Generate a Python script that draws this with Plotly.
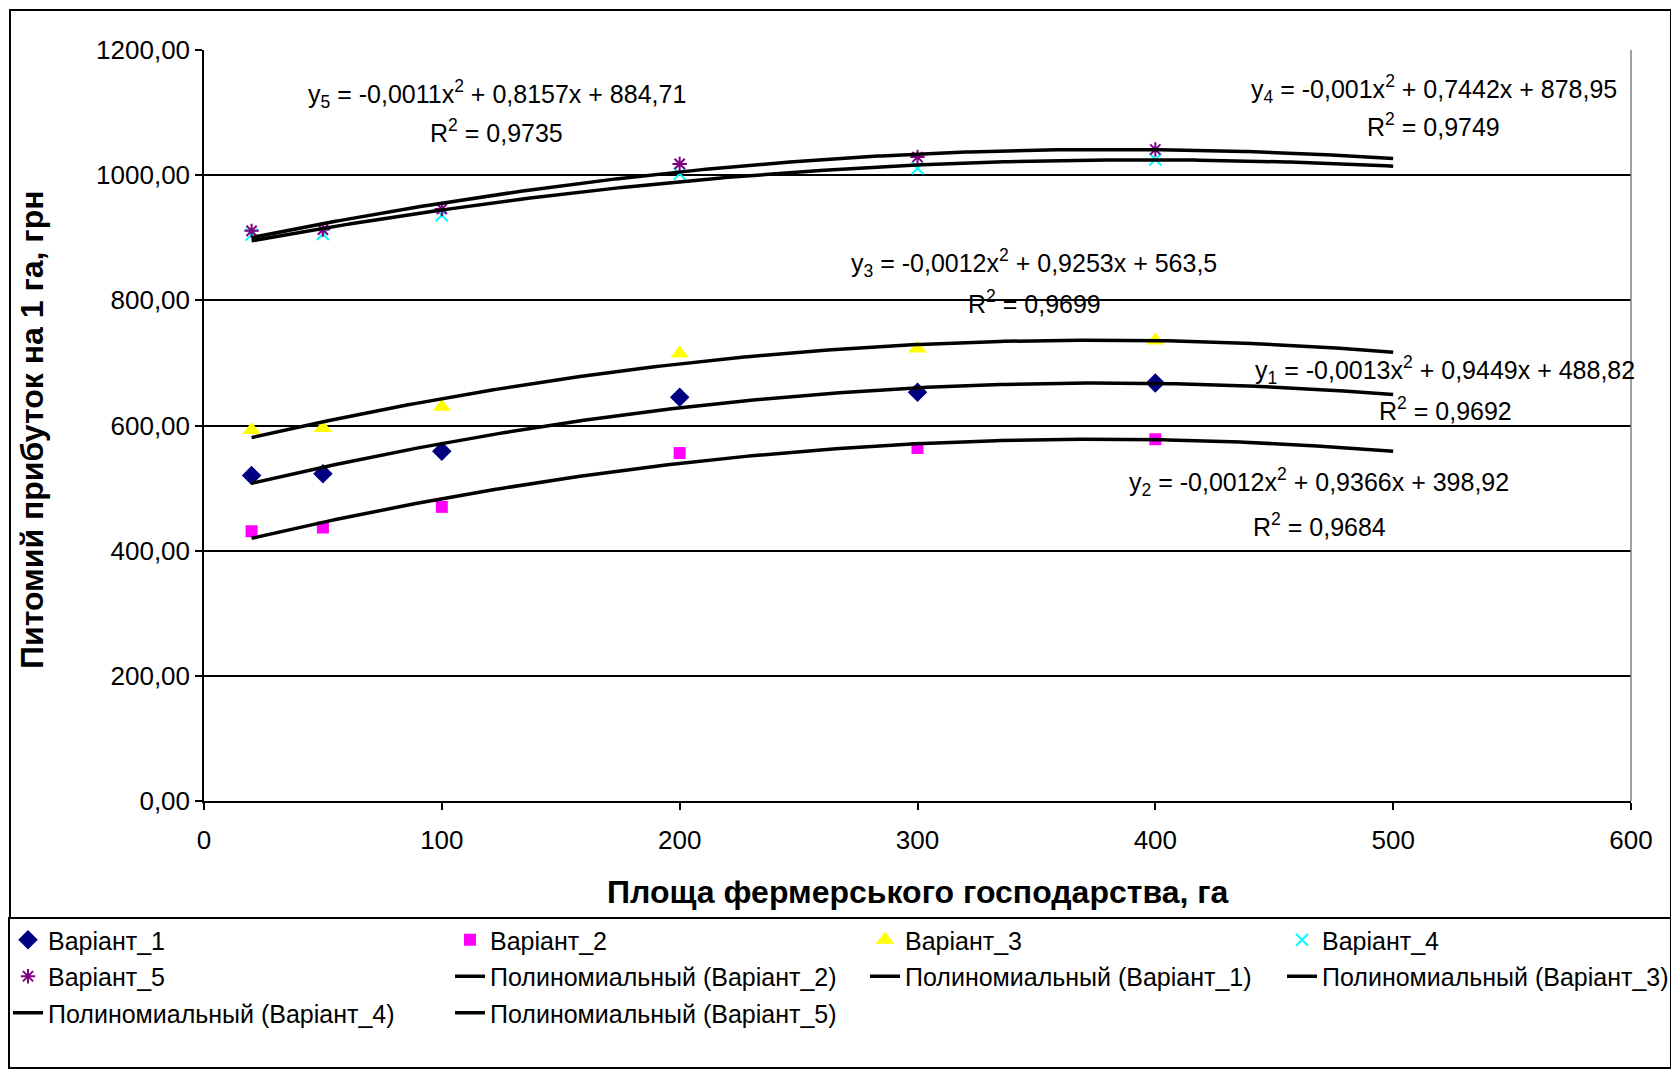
import numpy as np
import plotly.graph_objects as go

# ---------------- data ----------------
area = [20, 50, 100, 200, 300, 400]          # Площа фермерського господарства, га
v1 = [520, 523, 559, 645, 653, 668]          # Варіант_1
v2 = [431, 437, 470, 556, 564, 578]          # Варіант_2
v3 = [593, 596, 630, 715, 723, 736]          # Варіант_3
v4 = [905, 906, 936, 1002, 1011, 1025]       # Варіант_4
v5 = [911, 913, 946, 1018, 1029, 1041]       # Варіант_5
trend_start = 20
trend_end = 500

names = ["Варіант_1", "Варіант_2", "Варіант_3", "Варіант_4", "Варіант_5"]
values = [v1, v2, v3, v4, v5]

x_ticks = [0, 100, 200, 300, 400, 500, 600]
y_ticks = [0, 200, 400, 600, 800, 1000, 1200]

x_title = "Площа фермерського господарства, га"
y_title = "Питомий прибуток на 1 га, грн"

equations = [
    ("y<sub>1</sub> = -0,0013x<sup>2</sup> + 0,9449x + 488,82", "R<sup>2</sup> = 0,9692"),
    ("y<sub>2</sub> = -0,0012x<sup>2</sup> + 0,9366x + 398,92", "R<sup>2</sup> = 0,9684"),
    ("y<sub>3</sub> = -0,0012x<sup>2</sup> + 0,9253x + 563,5", "R<sup>2</sup> = 0,9699"),
    ("y<sub>4</sub> = -0,001x<sup>2</sup> + 0,7442x + 878,95", "R<sup>2</sup> = 0,9749"),
    ("y<sub>5</sub> = -0,0011x<sup>2</sup> + 0,8157x + 884,71", "R<sup>2</sup> = 0,9735"),
]

# ---------------- styles ----------------
FONT = "Liberation Sans, Arial, sans-serif"
marker_styles = [
    dict(symbol="diamond", size=15, color="#000080"),
    dict(symbol="square", size=12, color="#FF00FF"),
    dict(symbol="triangle-up", size=16, color="#FFFF00"),
    dict(symbol="x-thin-open", size=12, color="#00FFFF", line=dict(color="#00FFFF", width=2)),
    dict(symbol="asterisk-open", size=12, color="#800080", line=dict(color="#800080", width=2)),
]
# legend column assignment (4 columns, like the reference)
marker_legend = ["legend", "legend2", "legend3", "legend4", "legend"]
trend_order = [1, 0, 2, 3, 4]                # order of trendlines in the legend
trend_legend = ["legend2", "legend3", "legend4", "legend", "legend2"]
marker_rank = [1, 1, 1, 1, 2]
trend_rank = [2, 2, 2, 3, 3]

# equation label positions (data coords) : (x, y line1, y line2)
eq_pos = [
    (522, 689, 626),
    (469, 510, 441),
    (349, 860, 797),
    (517, 1138, 1080),
    (123, 1130, 1071),
]

fig = go.Figure()

for i, (nm, vals) in enumerate(zip(names, values)):
    fig.add_trace(go.Scatter(
        x=area, y=vals, mode="markers", name=nm,
        marker=marker_styles[i], legend=marker_legend[i],
        legendgroup=f"m{i}", legendrank=marker_rank[i],
    ))

xs = np.linspace(trend_start, trend_end, 300)
for k, i in enumerate(trend_order):
    coef = np.polyfit(area, values[i], 2)
    fig.add_trace(go.Scatter(
        x=xs, y=np.polyval(coef, xs), mode="lines",
        name=f"Полиномиальный ({names[i]})",
        line=dict(color="black", width=3.5),
        legend=trend_legend[k], legendgroup=f"t{i}", legendrank=trend_rank[k],
    ))

for (l1, l2), (ex, ey1, ey2) in zip(equations, eq_pos):
    for txt, yy in ((l1, ey1), (l2, ey2)):
        fig.add_annotation(x=ex, y=yy, xref="x", yref="y", text=txt, showarrow=False,
                           font=dict(family=FONT, size=25, color="black"),
                           xanchor="center", yanchor="middle")

# page offset (browser body margin) compensation: figure is 16px smaller
OFF = 8
W, H = 1679 - 2 * OFF, 1077 - 2 * OFF
PL, PR, PT, PB = 204, 1631, 50, 801           # plot area in reference pixels
L, R, T, B = PL - OFF, W - (PR - OFF), PT - OFF, H - (PB - OFF)
pw, ph = PR - PL, PB - PT


def px(xp):
    return (xp - PL) / pw


def py(yp):
    return (PB - yp) / ph


# axis titles as annotations (reference pixel centres)
fig.add_annotation(x=0.5, y=py(892), xref="paper", yref="paper", text=x_title,
                   showarrow=False, xanchor="center", yanchor="middle",
                   font=dict(family=FONT, size=32, color="black", weight="bold"))
fig.add_annotation(x=px(32), y=py(430), xref="paper", yref="paper", text=y_title,
                   showarrow=False, xanchor="center", yanchor="middle", textangle=-90,
                   font=dict(family=FONT, size=32, color="black", weight="bold"))

shapes = [
    # chart border
    dict(type="rect", xref="paper", yref="paper", x0=px(10), x1=px(1671), y0=py(918), y1=py(10),
         line=dict(color="black", width=2), layer="below"),
    # legend box
    dict(type="rect", xref="paper", yref="paper", x0=px(9), x1=px(1671), y0=py(1068), y1=py(918),
         line=dict(color="black", width=2), layer="below"),
    # plot-area right border
    dict(type="line", xref="paper", yref="paper", x0=1, x1=1, y0=0, y1=1,
         line=dict(color="#808080", width=1.5)),
]

legend_common = dict(orientation="v", xref="container", yref="container", yanchor="top",
                     xanchor="left", font=dict(family=FONT, size=25, color="black"),
                     bgcolor="rgba(0,0,0,0)", tracegroupgap=1, traceorder="grouped")
leg_top = 1 - (917 - OFF) / H
col_x = [8, 450, 865, 1282]

fig.update_layout(
    width=W, height=H, autosize=False,
    margin=dict(l=L, r=R, t=T, b=B, autoexpand=False),
    paper_bgcolor="white", plot_bgcolor="white",
    separators=", ",
    font=dict(family=FONT, color="black"),
    showlegend=True,
    shapes=shapes,
    legend=dict(x=(col_x[0] - OFF) / W, y=leg_top, **legend_common),
    legend2=dict(x=(col_x[1] - OFF) / W, y=leg_top, **legend_common),
    legend3=dict(x=(col_x[2] - OFF) / W, y=leg_top, **legend_common),
    legend4=dict(x=(col_x[3] - OFF) / W, y=leg_top, **legend_common),
    xaxis=dict(
        range=[0, 600], tickvals=x_ticks, showgrid=False, zeroline=False,
        showline=True, linecolor="black", linewidth=1.5,
        ticks="outside", ticklen=7, tickwidth=1.5, tickcolor="black",
        ticklabelstandoff=8,
        tickfont=dict(family=FONT, size=26, color="black"),
    ),
    yaxis=dict(
        range=[0, 1200], tickvals=y_ticks, tickformat=".2f",
        showgrid=True, gridcolor="black", gridwidth=1.5, zeroline=False,
        showline=True, linecolor="black", linewidth=1.5,
        ticks="outside", ticklen=7, tickwidth=1.5, tickcolor="black",
        tickfont=dict(family=FONT, size=26, color="black"),
    ),
)

fig.write_html("out.html")
